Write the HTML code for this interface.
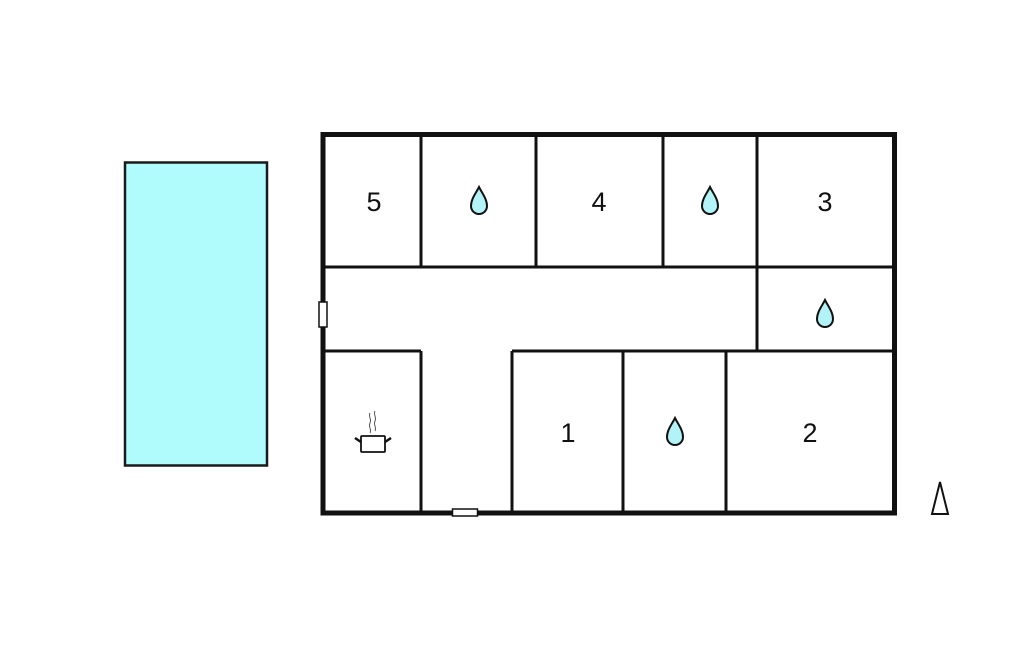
<!DOCTYPE html>
<html><head><style>html,body{margin:0;padding:0;background:#fff}svg{display:block}</style></head>
<body>
<svg width="1024" height="652" viewBox="0 0 1024 652" xmlns="http://www.w3.org/2000/svg">
<defs>
<path id="d" d="M0,0 C3,6 8,12 8,19 A8,8 0 0 1 -8,19 C-8,12 -3,6 0,0 Z" fill="#b2f3f8" stroke="#111" stroke-width="2"/>
</defs>
<rect x="125" y="162.5" width="142" height="303" fill="#b0fcfc" stroke="#1a1a1a" stroke-width="2.5"/>
<g stroke="#111" stroke-width="3" fill="none">
<line x1="421" y1="134" x2="421" y2="267"/>
<line x1="536" y1="134" x2="536" y2="267"/>
<line x1="663" y1="134" x2="663" y2="267"/>
<line x1="757" y1="134" x2="757" y2="351"/>
<line x1="323" y1="267" x2="895" y2="267"/>
<line x1="512" y1="351" x2="895" y2="351"/>
<line x1="323" y1="351" x2="421" y2="351"/>
<line x1="421" y1="351" x2="421" y2="513"/>
<line x1="512" y1="351" x2="512" y2="513"/>
<line x1="623" y1="351" x2="623" y2="513"/>
<line x1="726" y1="351" x2="726" y2="513"/>
</g>
<rect x="323" y="134.5" width="571.5" height="378.5" fill="none" stroke="#111" stroke-width="5"/>
<rect x="319" y="302" width="8" height="25" fill="#fff" stroke="#111" stroke-width="1.5"/>
<rect x="452.5" y="509" width="25" height="7" fill="#fff" stroke="#111" stroke-width="1.5"/>
<g font-family="Liberation Sans, sans-serif" font-size="27" fill="#111" text-anchor="middle">
<text x="374" y="211">5</text>
<text x="599" y="211">4</text>
<text x="825" y="211">3</text>
<text x="568" y="442">1</text>
<text x="810" y="442">2</text>
</g>
<use href="#d" x="479" y="187"/>
<use href="#d" x="710" y="187"/>
<use href="#d" x="825" y="300"/>
<use href="#d" x="675" y="418"/>
<g stroke="#111" fill="none">
<rect x="361" y="436" width="24" height="16" rx="1" stroke-width="1.8" fill="#fff"/>
<line x1="355" y1="438" x2="361" y2="442" stroke-width="2.5"/>
<line x1="385" y1="442" x2="391" y2="438" stroke-width="2.5"/>
<path d="M370,413 c-2,4 2,6 0,10 c-2,4 2,6 0,10" stroke-width="1" stroke="#555"/>
<path d="M375,411 c-2,4 2,6 0,10 c-2,4 2,6 0,10" stroke-width="1" stroke="#555"/>
<polygon points="940,482 932,514 948,514" stroke-width="2" fill="#fff"/>
</g>
</svg>
</body></html>
